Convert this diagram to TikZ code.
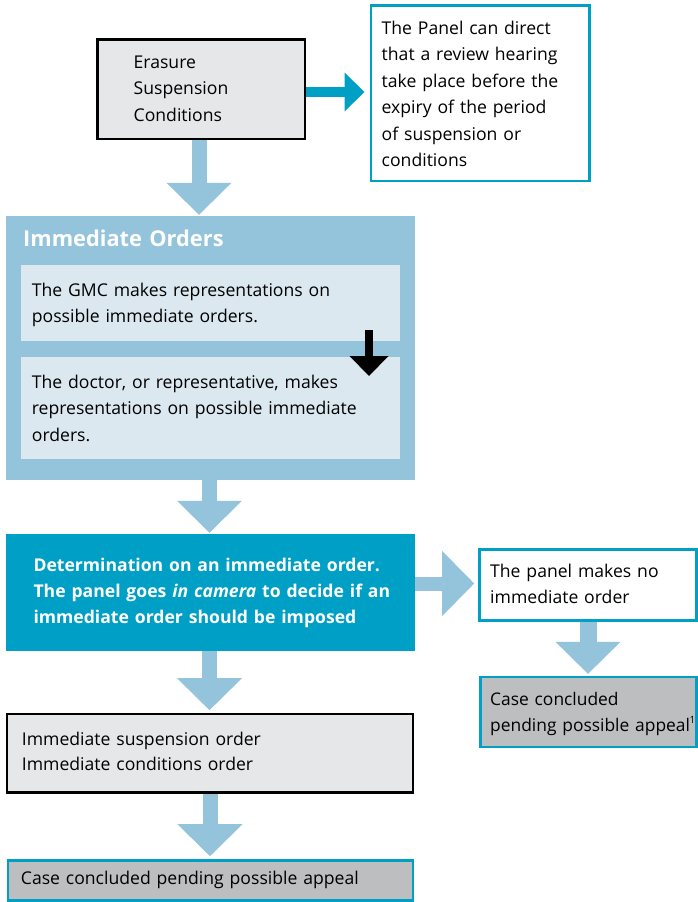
\documentclass[tikz,border=0pt]{standalone}
\usepackage{fontspec}
\setmainfont{Open Sans}
\usetikzlibrary{arrows.meta,calc}
\definecolor{teal}{HTML}{00A0C6}
\definecolor{lblue}{HTML}{93C4DC}
\definecolor{pale}{HTML}{DBE8F0}
\definecolor{lgray}{HTML}{E6E7E8}
\definecolor{dgray}{HTML}{BCBEC0}
\tikzset{
  box/.style={rectangle, inner sep=0pt},
  txt/.style={anchor=base west, align=left, inner sep=0pt, text width=400pt,
    font=\fontsize{17.6}{26.6}\selectfont},
  bigarrow/.style={draw=lblue, line width=15pt,
    -{Triangle[width=65pt,length=32pt,line width=0pt]}},
}
\begin{document}
\begin{tikzpicture}[x=1pt,y=-1pt]
\useasboundingbox (0,0) rectangle (698,902);
% boxes
\node[box, draw=black, line width=2.5pt, fill=lgray, minimum width=207.5pt, minimum height=99.5pt] (er) at (201,89) {};
\node[box, draw=teal, line width=2.5pt, fill=white, minimum width=218.5pt, minimum height=175.5pt] (pn) at (480,93) {};
\node[box, fill=lblue, minimum width=409pt, minimum height=264pt] (io) at (210.5,348) {};
\node[box, fill=pale, minimum width=379pt, minimum height=76pt] (b1) at (210.5,303) {};
\node[box, fill=pale, minimum width=379pt, minimum height=102.6pt] (b2) at (210.5,408) {};
\node[box, fill=teal, minimum width=409pt, minimum height=116.7pt] (det) at (210.5,592.3) {};
\node[box, draw=teal, line width=2.6pt, fill=white, minimum width=217pt, minimum height=70.7pt] (no) at (588,585) {};
\node[box, draw=teal, line width=2.6pt, fill=dgray, minimum width=216pt, minimum height=69.7pt] (cr) at (588.5,712) {};
\node[box, draw=black, line width=2.6pt, fill=lgray, minimum width=405.7pt, minimum height=78.7pt] (su) at (210,753.3) {};
\node[box, draw=teal, line width=2.6pt, fill=dgray, minimum width=405pt, minimum height=40pt] (cb) at (210.5,880.5) {};
% texts
\node[txt] (ter) at (133.5,68) {Erasure\\Suspension\\Conditions};
\node[txt, font=\fontsize{17.6}{26.5}\selectfont] (tpn) at (381.5,34) {The Panel can direct\\that a review hearing\\take place before the\\expiry of the period\\of suspension or\\conditions};
\node[txt, text=white, font=\fontsize{21.8}{24}\selectfont\bfseries] (tio) at (23,246.7) {Immediate Orders};
\node[txt] (tb1) at (31.7,296) {The GMC makes representations on\\possible immediate orders.};
\node[txt] (tb2) at (31.7,388.3) {The doctor, or representative, makes\\representations on possible immediate\\orders.};
\node[txt, text=white, font=\fontsize{17.6}{25.8}\selectfont\bfseries] (tdet) at (33.3,571.7) {Determination on an immediate order.\\The panel goes \textit{in camera} to decide if an\\immediate order should be imposed};
\node[txt] (tno) at (490,577.3) {The panel makes no\\immediate order};
\node[txt, font=\fontsize{17.4}{26.6}\selectfont] (tcr) at (490,705) {Case concluded\\pending possible appeal\kern-0.3pt\raisebox{8pt}{\fontsize{10}{10}\selectfont 1}};
\node[txt, font=\fontsize{17.6}{25.3}\selectfont] (tsu) at (21.7,745) {Immediate suspension order\\Immediate conditions order};
\node[txt] (tcb) at (20.7,884) {Case concluded pending possible appeal};
% connectors
\draw[draw=teal, line width=10.5pt, -{Triangle[width=39pt,length=20pt,line width=0pt]}, shorten >=5pt]
  ($(er.east)+(0,3)$) -- ($(er.east -| pn.west)+(0,3)$);
\draw[bigarrow, shorten >=1pt] (er.south -| 199,0) -- (io.north -| 199,0);
\draw[bigarrow, shorten >=1pt] (io.south -| 209.5,0) -- (det.north -| 209.5,0);
\draw[bigarrow, shorten >=2.5pt] (det.south -| 209.5,0) -- (su.north -| 209.5,0);
\draw[bigarrow, shorten >=3pt] (su.south -| 210,0) -- (cb.north -| 210,0);
\draw[bigarrow, line width=14pt, shorten >=4pt] (det.east |- 0,583.5) -- (no.west |- 0,583.5);
\draw[bigarrow, line width=17pt, shorten >=2pt] (no.south -| 588,0) -- (cr.north -| 588,0);
\coordinate (ba1) at (369,330);
\coordinate (ba2) at (369,376);
\draw[line width=8.5pt, -{Triangle[width=39pt,length=20pt,line width=0pt]}] (ba1) -- (ba2);
\end{tikzpicture}
\end{document}
